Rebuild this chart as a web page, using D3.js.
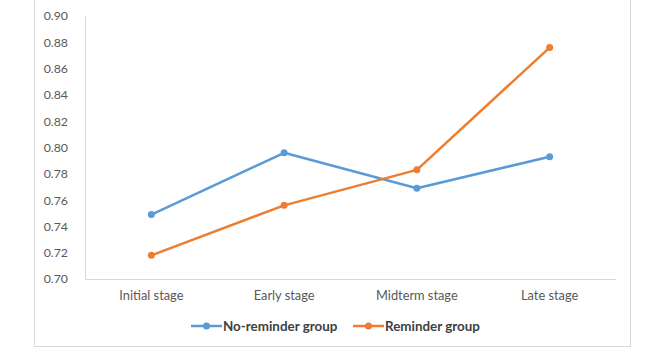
<!DOCTYPE html>
<html>
<head>
<meta charset="utf-8">
<script src="https://cdn.jsdelivr.net/npm/d3@7"></script>
<style>
    body { margin: 0; background: #fff; }
    svg text { font-family: Lato, "Open Sans", sans-serif; }
</style>
</head>
<body>
<div id="chart"></div>
<script>

// data
var stages = ["Initial stage", "Early stage", "Midterm stage", "Late stage"];
var noReminder = [0.749, 0.796, 0.769, 0.793];
var reminder = [0.718, 0.756, 0.783, 0.876];
var yTicks = [0.70, 0.72, 0.74, 0.76, 0.78, 0.80, 0.82, 0.84, 0.86, 0.88, 0.90];
var seriesNames = ["No-reminder group", "Reminder group"];
var colors = ["#5b9bd5", "#ed7d31"];

var W = 666, H = 348;
var margin = { top: 16, right: 50, bottom: 69, left: 85 },
    width = 616 - margin.left,
    height = 279 - margin.top;

var svg = d3.select("#chart").append("svg")
    .attr("width", W)
    .attr("height", H);

// outer chart border
svg.append("rect")
    .attr("x", 34.5).attr("y", -1)
    .attr("width", 596).attr("height", 347.5)
    .attr("fill", "none")
    .attr("stroke", "#d9d9d9");

var g = svg.append("g")
    .attr("transform", "translate(" + margin.left + "," + margin.top + ")");

var x = d3.scaleBand().domain(stages).range([0, width]);
var y = d3.scaleLinear().domain([0.70, 0.90]).range([height, 0]);

// y axis
var yAxis = d3.axisLeft(y).tickValues(yTicks).tickSize(0).tickPadding(17)
    .tickFormat(d3.format(".2f"));
var ya = g.append("g").call(yAxis);
ya.select(".domain").attr("stroke", "#d9d9d9");
ya.selectAll("text").attr("fill", "#595959").style("font-size", "12.3px");

// x axis
var xAxis = d3.axisBottom(x).tickSize(0).tickPadding(12);
var xa = g.append("g").attr("transform", "translate(0," + height + ")").call(xAxis);
xa.select(".domain").attr("stroke", "#d9d9d9");
xa.selectAll("text").attr("fill", "#595959").style("font-size", "12.8px");

var line = d3.line()
    .x(function (d, i) { return x(stages[i]) + x.bandwidth() / 2; })
    .y(function (d) { return y(d); });

[noReminder, reminder].forEach(function (vals, k) {
    g.append("path")
        .datum(vals)
        .attr("d", line)
        .attr("fill", "none")
        .attr("stroke", colors[k])
        .attr("stroke-width", 2.5)
        .attr("stroke-linejoin", "round");

    g.selectAll(".pt" + k)
        .data(vals)
        .enter().append("circle")
        .attr("cx", function (d, i) { return x(stages[i]) + x.bandwidth() / 2; })
        .attr("cy", function (d) { return y(d); })
        .attr("r", 3.5)
        .attr("fill", colors[k]);
});

// legend
var legendX = [191, 353];
seriesNames.forEach(function (name, k) {
    var lg = svg.append("g").attr("transform", "translate(" + legendX[k] + ",326)");
    lg.append("line")
        .attr("x1", 0).attr("x2", 31)
        .attr("stroke", colors[k]).attr("stroke-width", 2.5);
    lg.append("circle").attr("cx", 15.5).attr("r", 3.5).attr("fill", colors[k]);
    lg.append("text")
        .attr("x", 32).attr("dy", "0.35em")
        .attr("fill", "#404040")
        .style("font-size", "13.4px")
        .style("font-weight", "bold")
        .text(name);
});

</script>
</body>
</html>
